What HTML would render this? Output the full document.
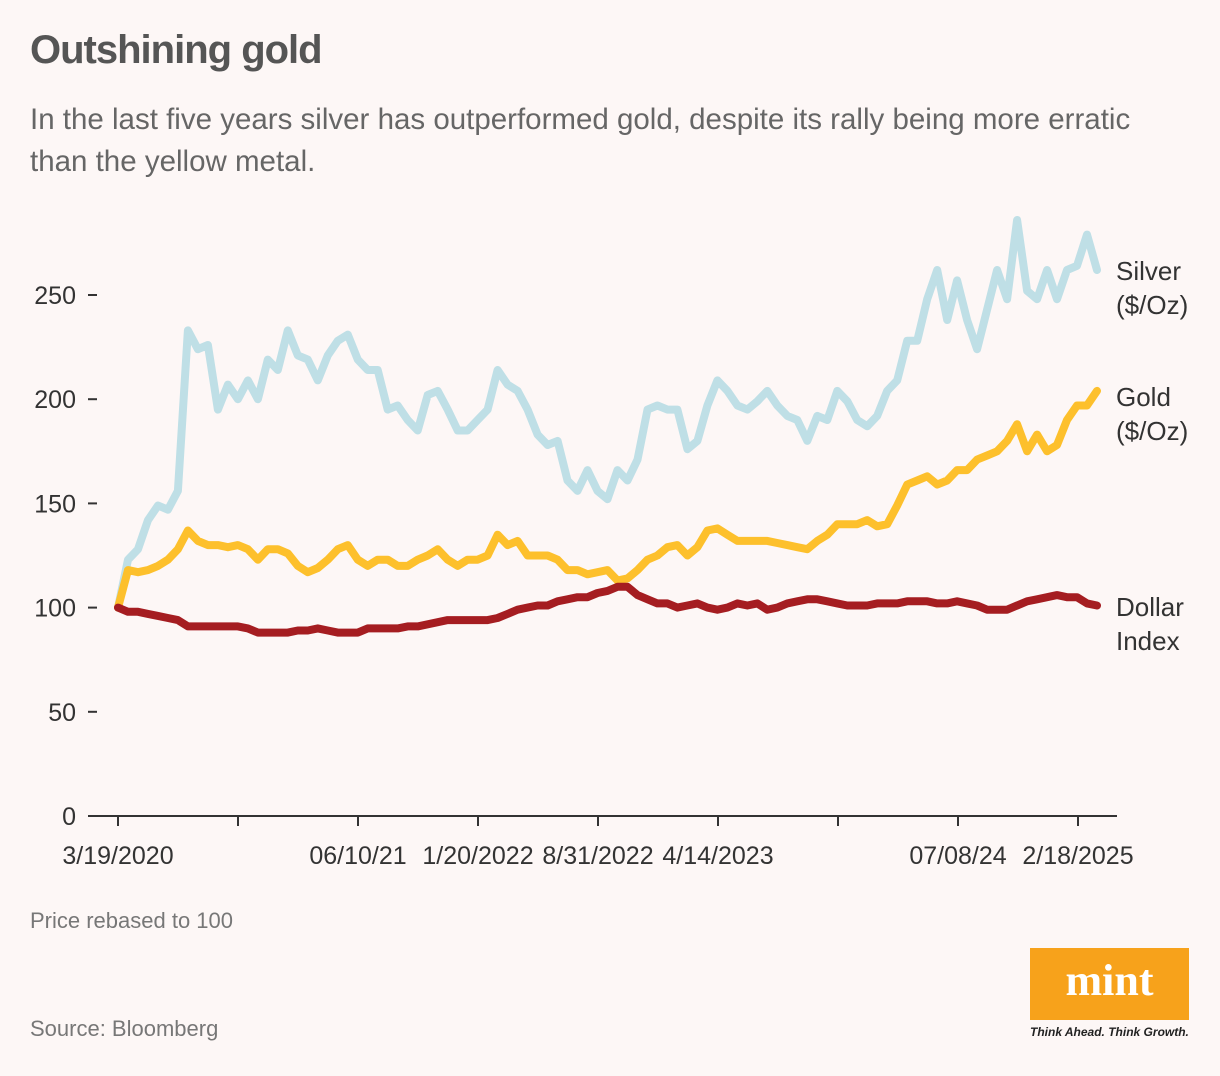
<!DOCTYPE html>
<html><head><meta charset="utf-8"><style>
body{margin:0;background:#fdf7f6;font-family:"Liberation Sans",sans-serif;}
#wrap{position:relative;width:1220px;height:1076px;overflow:hidden;background:#fdf7f6;}
.t{position:absolute;white-space:nowrap;}
</style></head><body>
<div id="wrap">
<div class="t" style="left:30px;top:28px;font-size:40px;font-weight:bold;color:#555;letter-spacing:-1px;">Outshining gold</div>
<div class="t" style="left:30px;top:99px;font-size:29.5px;line-height:42px;color:#666;">In the last five years silver has outperformed gold, despite its rally being more erratic<br>than the yellow metal.</div>
<svg id="chart" width="1220" height="1076" style="position:absolute;left:0;top:0"></svg>
<div class="t" style="left:30px;top:908px;font-size:22px;color:#777;">Price rebased to 100</div>
<div class="t" style="left:30px;top:1016px;font-size:22px;color:#777;">Source: Bloomberg</div>
<div style="position:absolute;left:1030px;top:948px;width:159px;height:72px;background:#f7a21b;color:#fff;font-family:'Liberation Serif',serif;font-weight:bold;font-size:44px;text-align:center;line-height:66px;">mint</div>
<div class="t" style="left:1030px;top:1025px;font-size:12px;font-weight:bold;font-style:italic;color:#222;">Think Ahead. Think Growth.</div>
</div>
<script>
const yTicks=[0,50,100,150,200,250];
const xTickLabels=["3/19/2020","","06/10/21","1/20/2022","8/31/2022","4/14/2023","","07/08/24","2/18/2025"];
const silver=[100,123,128,142,149,147,156,233,224,226,195,207,200,209,200,219,214,233,221,219,209,221,228,231,219,214,214,195,197,190,185,202,204,195,185,185,190,195,214,207,204,195,183,178,180,161,156,166,156,152,166,161,171,195,197,195,195,176,180,197,209,204,197,195,199,204,197,192,190,180,192,190,204,199,190,187,192,204,209,228,228,248,262,238,257,238,224,243,262,248,286,252,248,262,248,262,264,279,262];
const gold=[100,118,117,118,120,123,128,137,132,130,130,129,130,128,123,128,128,126,120,117,119,123,128,130,123,120,123,123,120,120,123,125,128,123,120,123,123,125,135,130,132,125,125,125,123,118,118,116,117,118,113,114,118,123,125,129,130,125,129,137,138,135,132,132,132,132,131,130,129,128,132,135,140,140,140,142,139,140,149,159,161,163,159,161,166,166,171,173,175,180,188,175,183,175,178,190,197,197,204];
const dollar=[100,98,98,97,96,95,94,91,91,91,91,91,91,90,88,88,88,88,89,89,90,89,88,88,88,90,90,90,90,91,91,92,93,94,94,94,94,94,95,97,99,100,101,101,103,104,105,105,107,108,110,110,106,104,102,102,100,101,102,100,99,100,102,101,102,99,100,102,103,104,104,103,102,101,101,101,102,102,102,103,103,103,102,102,103,102,101,99,99,99,101,103,104,105,106,105,105,102,101];
const NS="http://www.w3.org/2000/svg";
const svg=document.getElementById('chart');
const X0=118,X1=1097,Y0=816,PX=2.084;
const yScale=v=>Y0-v*PX;
const xScale=(i,n)=>X0+(X1-X0)*i/(n-1);
function mk(tag,attrs){const e=document.createElementNS(NS,tag);for(const k in attrs)e.setAttribute(k,attrs[k]);svg.appendChild(e);return e;}
yTicks.forEach(v=>{
  const y=yScale(v);
  const l=mk('line',{x1:88,x2:97,y1:y,y2:y,stroke:'#333','stroke-width':2});
  
  
  const t=mk('text',{x:76,y:y+9,'text-anchor':'end','font-size':25,fill:'#333','font-family':'Liberation Sans, sans-serif'});
  t.textContent=v;
  
  
});
const ax=mk('line',{x1:88,x2:1117,y1:Y0,y2:Y0,stroke:'#333','stroke-width':2});


xTickLabels.forEach((lab,i)=>{
  const x=118+i*120;
  const l=mk('line',{x1:x,x2:x,y1:Y0,y2:Y0+10,stroke:'#333','stroke-width':2});
  
  
  if(lab){
    const t=mk('text',{x:x,y:864,'text-anchor':'middle','font-size':25,fill:'#333','font-family':'Liberation Sans, sans-serif'});
    t.textContent=lab;
    
    
  }
});
function series(arr,color,name){
  const d=arr.map((v,i)=>(i?'L':'M')+xScale(i,arr.length).toFixed(1)+' '+yScale(v).toFixed(1)).join(' ');
  const p=mk('path',{d:d,fill:'none',stroke:color,'stroke-width':8,'stroke-linejoin':'round','stroke-linecap':'round'});
  
  
}
series(silver,'#bfdfe6','silver-line');
series(gold,'#fdc02c','gold-line');
series(dollar,'#a51d21','dollar-index-line');
function label(lines,y,name){
  lines.forEach((s,i)=>{
    const t=mk('text',{x:1116,y:y+i*34,'font-size':26,fill:'#333','font-family':'Liberation Sans, sans-serif'});
    t.textContent=s;
    
    
  });
}
label(['Silver','($/Oz)'],280,'silver-label');
label(['Gold','($/Oz)'],406,'gold-label');
label(['Dollar','Index'],616,'dollar-index-label');
</script>
</body></html>
